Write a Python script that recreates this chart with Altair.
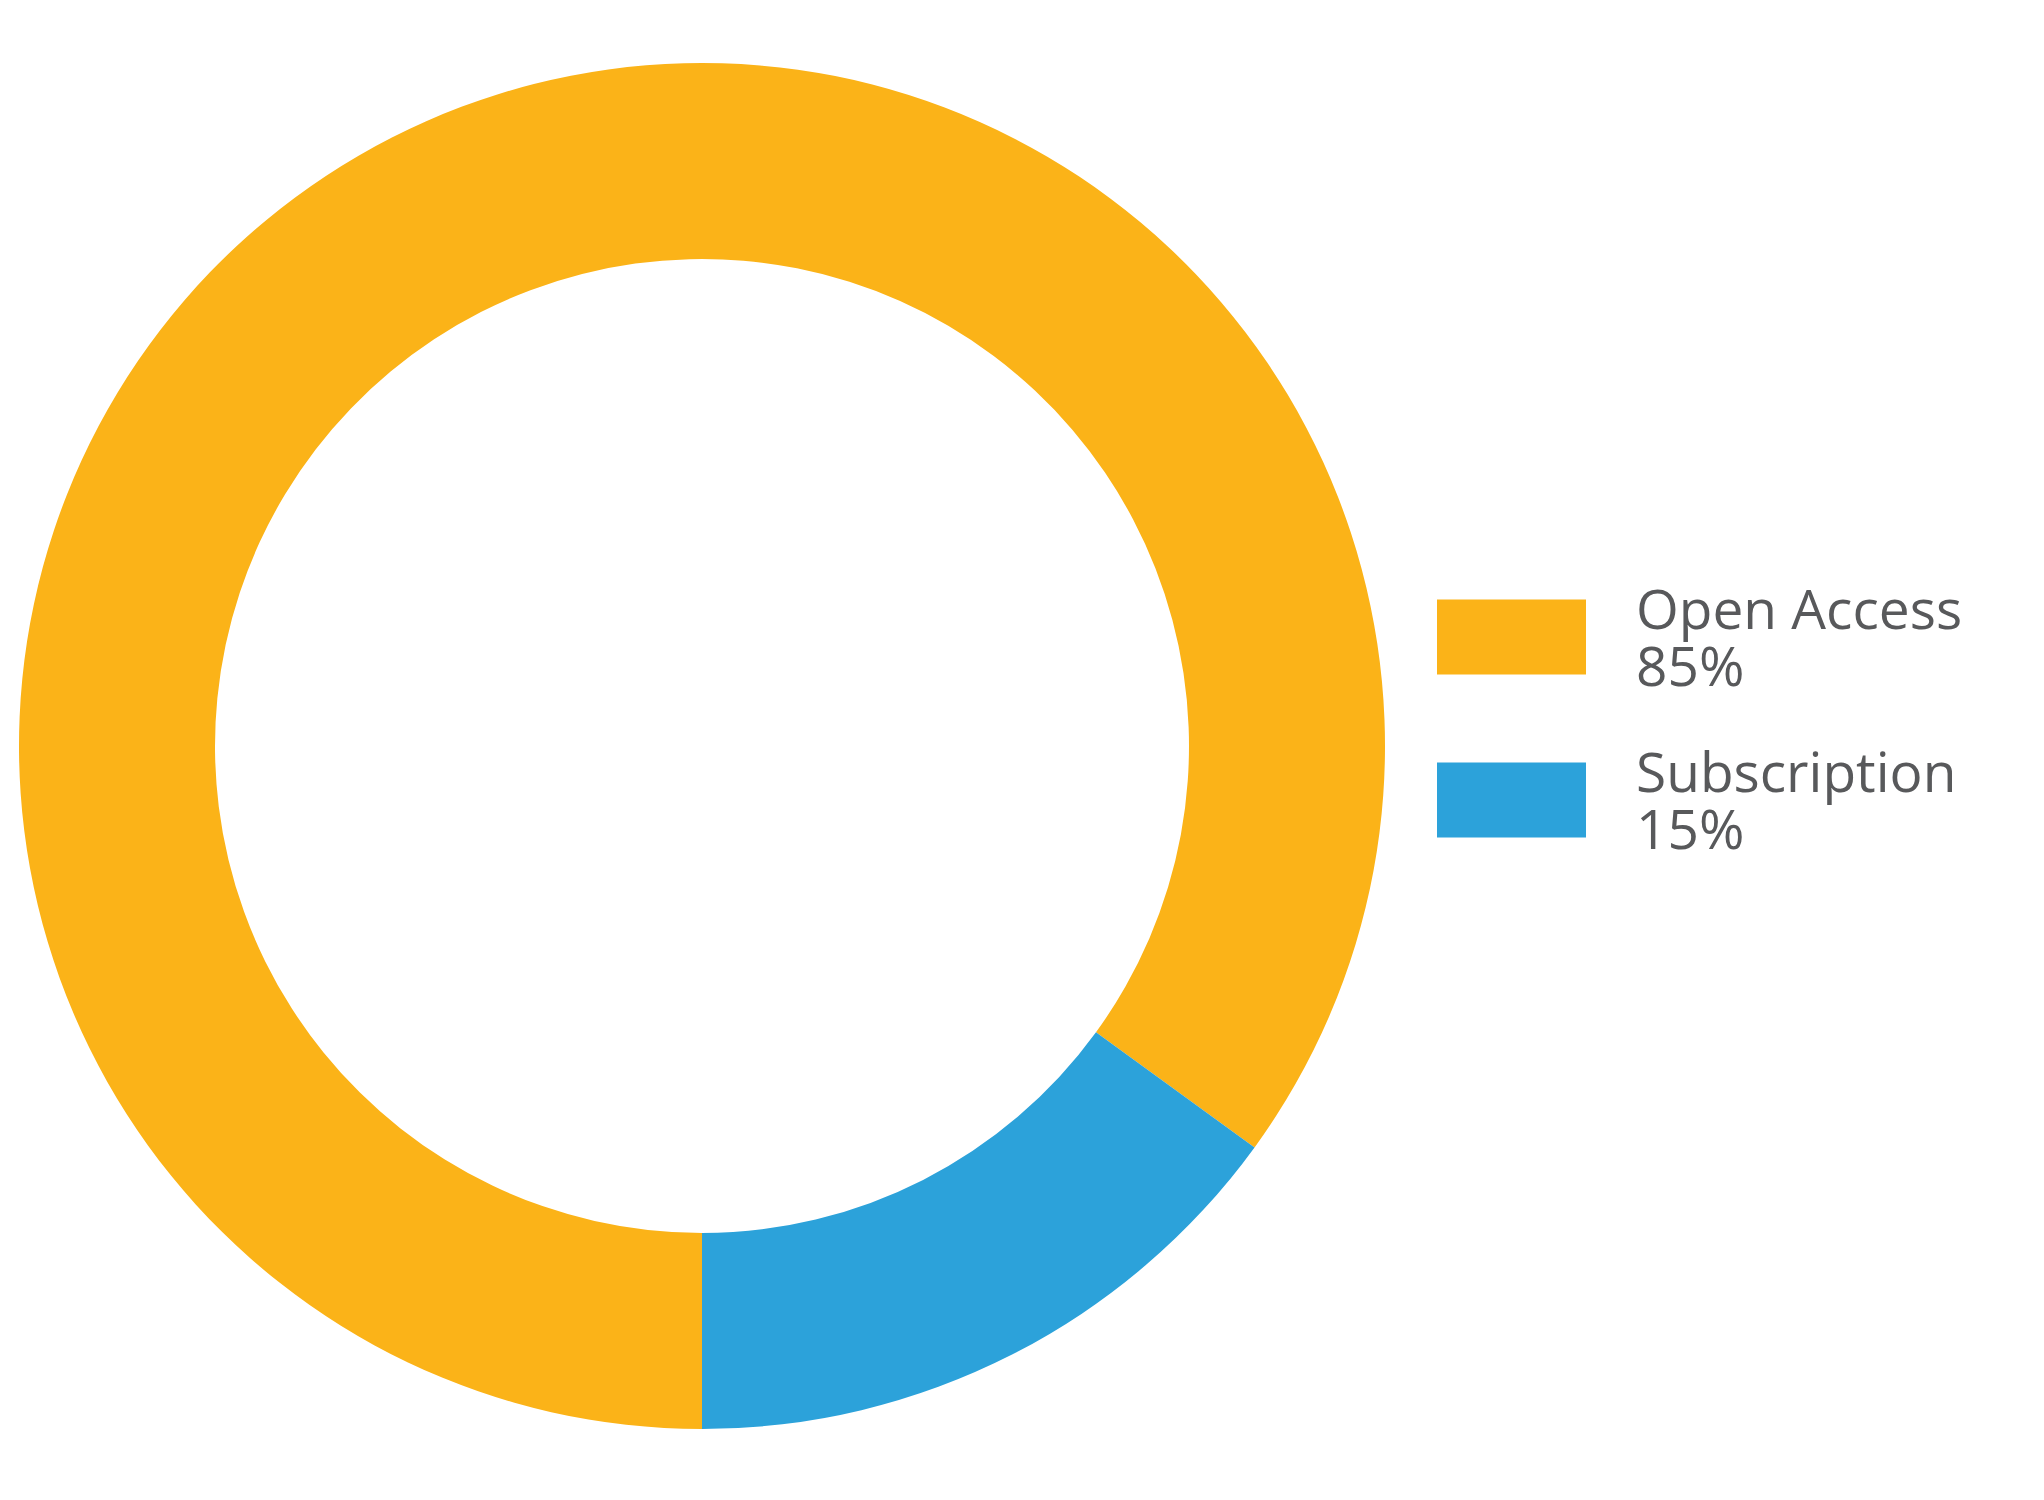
import math
import altair as alt
import pandas as pd

categories = ["Open Access", "Subscription"]
values = [85, 15]
colors = ["#FBB318", "#2CA2DA"]

labels = [f"{c}|{v}%" for c, v in zip(categories, values)]
df = pd.DataFrame({"label": labels, "value": values, "order": [0, 1]})

chart = (
    alt.Chart(df)
    .mark_arc(innerRadius=487, outerRadius=683)
    .encode(
        theta=alt.Theta("value:Q", stack=True,
                        scale=alt.Scale(range=[math.pi, 3 * math.pi])),
        order=alt.Order("order:Q"),
        color=alt.Color(
            "label:N",
            scale=alt.Scale(domain=labels, range=colors),
            sort=labels,
            legend=alt.Legend(
                title=None,
                orient="none",
                legendX=1429,
                legendY=546,
                symbolType="M-1,-0.39H1V0.617H-1Z",
                symbolSize=22201,
                symbolStrokeWidth=0,
                symbolOpacity=1,
                symbolOffset=0,
                labelOffset=50,
                labelFont="Open Sans",
                labelFontSize=55,
                labelBaseline="alphabetic",
                labelColor="#58595b",
                labelLimit=600,
                labelExpr="split(datum.label, '|')",
                rowPadding=20,
                padding=0,
            ),
        ),
    )
    .properties(width=1388, height=1476, padding=0)
    .configure_view(stroke=None)
)

chart.save("out.html", embed_options={"renderer": "svg", "actions": False})
